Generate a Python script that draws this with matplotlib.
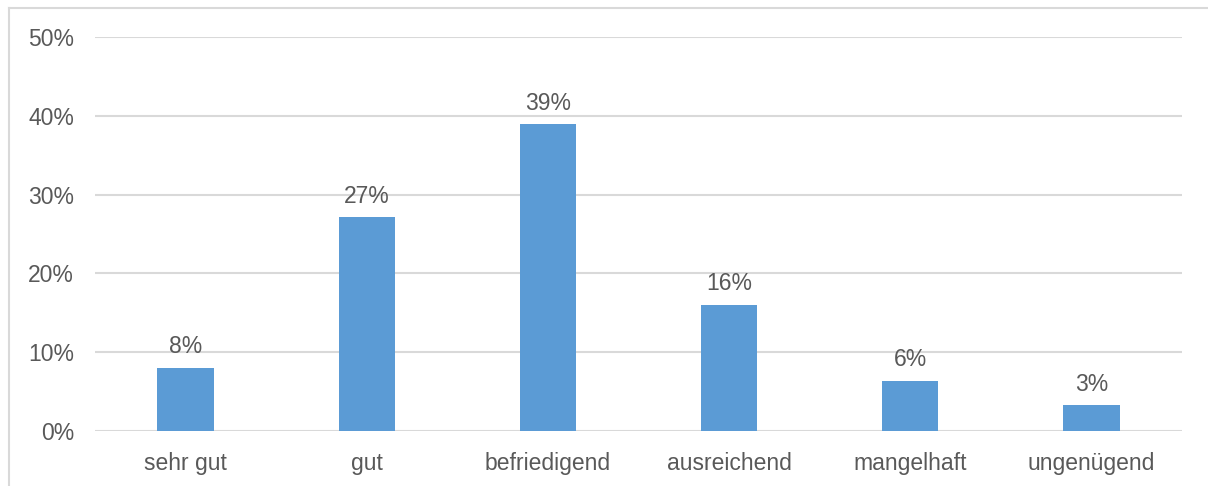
import matplotlib
matplotlib.use('Agg')
import matplotlib.pyplot as plt
from matplotlib.lines import Line2D
from matplotlib.ticker import PercentFormatter

# grade distribution
grades = ["sehr gut", "gut", "befriedigend", "ausreichend", "mangelhaft", "ungenügend"]
shares = [8.0, 27.1, 38.9, 16.0, 6.4, 3.3]
yticks = [0, 10, 20, 30, 40, 50]

textcol = "#595959"
gridcol = "#d9d9d9"
barcol = "#5b9bd5"

plt.rcParams['font.family'] = ['Liberation Sans', 'DejaVu Sans']

fig = plt.figure(figsize=(12.08, 4.86), dpi=100)
ax = fig.add_axes([0.0786, 0.1132, 0.8999, 0.8107])

x = range(len(grades))
bars = ax.bar(x, shares, width=0.31, color=barcol, zorder=3)
for b, v in zip(bars, shares):
    ax.text(b.get_x() + b.get_width() / 2, v + 1.2, "%.0f%%" % v,
            ha='center', va='bottom', fontsize=16.5, color=textcol)

ax.set_xlim(-0.5, len(grades) - 0.5)
ax.set_ylim(0, 50)
ax.set_yticks(yticks)
ax.yaxis.set_major_formatter(PercentFormatter(decimals=0))
ax.set_xticks(list(x))
ax.set_xticklabels(grades)
ax.tick_params(axis='both', length=0, labelsize=16.5, labelcolor=textcol)
ax.tick_params(axis='y', pad=15)
ax.tick_params(axis='x', pad=15)
ax.grid(axis='y', color=gridcol, linewidth=1.5, zorder=0)
for s in ax.spines.values():
    s.set_visible(False)

# chart area outline (left and top edges)
fig.add_artist(Line2D([0.0075, 0.0075], [0, 0.9835], color=gridcol, linewidth=1.5))
fig.add_artist(Line2D([0.0075, 1.0], [0.9835, 0.9835], color=gridcol, linewidth=1.5))

plt.savefig("out.png", dpi=100)
